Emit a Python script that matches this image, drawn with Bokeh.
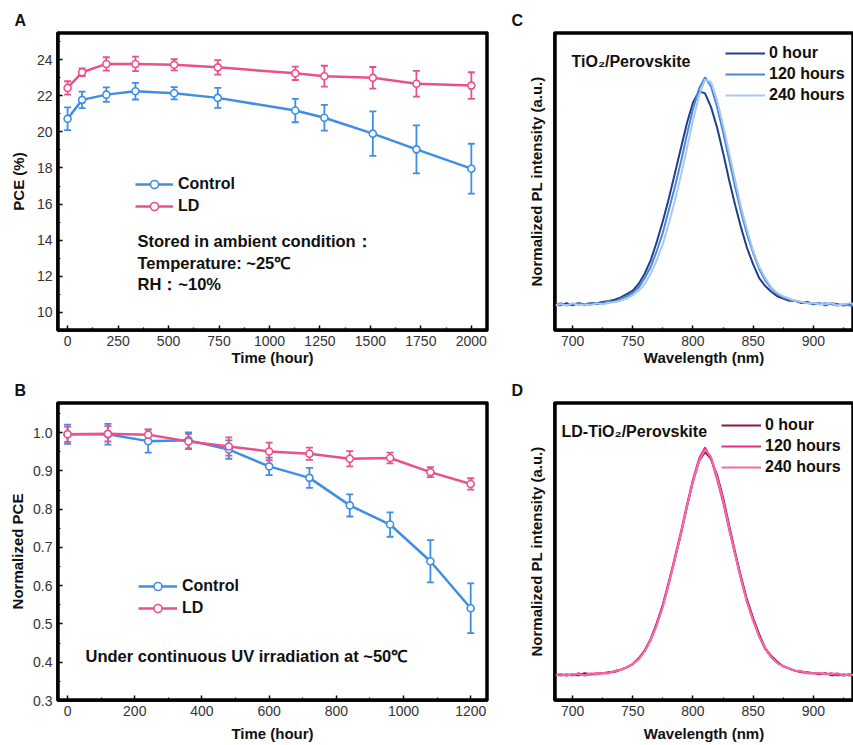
from bokeh.plotting import figure
from bokeh.models import (ColumnDataSource, Whisker, TeeHead, Legend, LegendItem,
                          Label, FixedTicker, Range1d, Title)
from bokeh.layouts import column, row
from bokeh.embed import file_html
from bokeh.resources import INLINE

# ---------------- data ----------------
# Panel A: ambient storage
a_time = [0, 72, 192, 336, 528, 744, 1128, 1272, 1512, 1728, 2000]
a_control = [20.72, 21.77, 22.06, 22.25, 22.14, 21.88, 21.18, 20.78, 19.90, 19.03, 17.96]
a_control_err = [0.63, 0.46, 0.40, 0.46, 0.34, 0.55, 0.65, 0.71, 1.23, 1.33, 1.38]
a_ld = [22.43, 23.30, 23.76, 23.76, 23.71, 23.57, 23.24, 23.08, 22.99, 22.66, 22.56]
a_ld_err = [0.37, 0.21, 0.37, 0.40, 0.31, 0.40, 0.37, 0.58, 0.60, 0.71, 0.74]

# Panel B: UV irradiation
b_time = [0, 120, 240, 360, 480, 600, 720, 840, 960, 1080, 1200]
b_control = [0.996, 0.996, 0.978, 0.980, 0.956, 0.912, 0.882, 0.810, 0.760, 0.664, 0.541]
b_control_err = [0.025, 0.027, 0.030, 0.021, 0.024, 0.023, 0.026, 0.029, 0.032, 0.055, 0.065]
b_ld = [0.996, 0.997, 0.995, 0.977, 0.964, 0.951, 0.945, 0.932, 0.934, 0.897, 0.866]
b_ld_err = [0.020, 0.020, 0.014, 0.020, 0.024, 0.023, 0.016, 0.020, 0.014, 0.013, 0.015]

# Panels C/D: PL spectra (normalized)
wavelength = list(range(685, 940, 5))
c_0h = [0.005, 0.00, 0.01, 0.00, 0.01, 0.005, 0.01, 0.01, 0.015, 0.02, 0.025, 0.035, 0.05,
        0.065, 0.095, 0.14, 0.20, 0.28, 0.37, 0.47, 0.58, 0.69, 0.80, 0.89, 0.94, 0.93,
        0.87, 0.78, 0.67, 0.55, 0.44, 0.34, 0.25, 0.18, 0.12, 0.085, 0.06, 0.04, 0.03,
        0.02, 0.02, 0.01, 0.015, 0.005, 0.01, 0.00, 0.01, 0.005, 0.00, 0.005, 0.00]
c_120h = [0.00, 0.01, 0.00, 0.005, 0.01, 0.00, 0.01, 0.005, 0.01, 0.02, 0.015, 0.03, 0.04,
          0.055, 0.08, 0.12, 0.17, 0.24, 0.32, 0.42, 0.52, 0.63, 0.75, 0.86, 0.95, 1.00,
          0.96, 0.87, 0.76, 0.64, 0.52, 0.41, 0.31, 0.23, 0.16, 0.11, 0.075, 0.05, 0.035,
          0.025, 0.02, 0.015, 0.01, 0.01, 0.005, 0.01, 0.005, 0.00, 0.005, 0.00, 0.00]
c_240h = [0.00, 0.005, 0.00, 0.01, 0.00, 0.005, 0.00, 0.01, 0.005, 0.01, 0.015, 0.02, 0.03,
          0.045, 0.065, 0.095, 0.14, 0.20, 0.27, 0.36, 0.46, 0.57, 0.69, 0.81, 0.92, 0.99,
          0.98, 0.90, 0.79, 0.67, 0.55, 0.43, 0.33, 0.24, 0.17, 0.12, 0.08, 0.055, 0.04,
          0.03, 0.02, 0.015, 0.01, 0.01, 0.005, 0.005, 0.01, 0.00, 0.005, 0.01, 0.005]
d_0h = [0.00, 0.005, 0.00, 0.005, 0.00, 0.01, 0.005, 0.005, 0.01, 0.01, 0.02, 0.025, 0.035,
        0.05, 0.075, 0.11, 0.16, 0.23, 0.31, 0.41, 0.51, 0.62, 0.74, 0.85, 0.94, 0.98,
        0.95, 0.88, 0.78, 0.66, 0.54, 0.43, 0.33, 0.25, 0.18, 0.12, 0.085, 0.06, 0.04,
        0.03, 0.02, 0.015, 0.01, 0.01, 0.005, 0.01, 0.00, 0.005, 0.00, 0.005, 0.00]
d_120h = [0.005, 0.00, 0.005, 0.00, 0.01, 0.00, 0.005, 0.01, 0.01, 0.015, 0.015, 0.025, 0.035,
          0.05, 0.075, 0.11, 0.16, 0.23, 0.31, 0.41, 0.52, 0.63, 0.75, 0.86, 0.95, 1.00,
          0.95, 0.86, 0.76, 0.64, 0.53, 0.42, 0.32, 0.24, 0.17, 0.115, 0.08, 0.055, 0.04,
          0.03, 0.02, 0.015, 0.015, 0.01, 0.01, 0.005, 0.01, 0.00, 0.005, 0.00, 0.005]
d_240h = [0.00, 0.005, 0.00, 0.005, 0.005, 0.00, 0.01, 0.005, 0.01, 0.01, 0.02, 0.025, 0.035,
          0.05, 0.07, 0.105, 0.155, 0.22, 0.30, 0.40, 0.51, 0.62, 0.74, 0.85, 0.94, 0.99,
          0.96, 0.87, 0.77, 0.65, 0.53, 0.42, 0.32, 0.24, 0.17, 0.12, 0.08, 0.055, 0.04,
          0.03, 0.02, 0.02, 0.01, 0.01, 0.01, 0.005, 0.005, 0.01, 0.00, 0.005, 0.00]

a_xticks = [0, 250, 500, 750, 1000, 1250, 1500, 1750, 2000]
a_yticks = [10, 12, 14, 16, 18, 20, 22, 24]
b_xticks = [0, 200, 400, 600, 800, 1000, 1200]
b_yticks = [0.3, 0.4, 0.5, 0.6, 0.7, 0.8, 0.9, 1.0]
b_ylabels = {0.3: "0.3", 0.4: "0.4", 0.5: "0.5", 0.6: "0.6", 0.7: "0.7", 0.8: "0.8", 0.9: "0.9", 1.0: "1.0"}
cd_xticks = [700, 750, 800, 850, 900]

# ---------------- style ----------------
FONT = "Liberation Sans"
BLUE = "#3f8ee6"
PINK = "#e9508c"
C_COLORS = ["#1f3f86", "#4a87d9", "#a9c8ef"]
D_COLORS = ["#8a1450", "#ea2d88", "#f06ea8"]
FRAME = "black"


def style_axis(ax):
    ax.axis_line_color = FRAME
    ax.axis_line_width = 2.5
    ax.major_tick_line_color = FRAME
    ax.minor_tick_line_color = FRAME
    ax.major_tick_line_width = 1.5
    ax.minor_tick_line_width = 1.2
    ax.major_tick_in = 5
    ax.major_tick_out = 0
    ax.minor_tick_in = 3
    ax.minor_tick_out = 0
    ax.major_label_text_font = FONT
    ax.major_label_text_font_size = "14px"
    ax.major_label_text_color = "#333333"
    ax.axis_label_text_font = FONT
    ax.axis_label_text_font_style = "bold"
    ax.axis_label_text_font_size = "15px"
    ax.axis_label_text_color = "#111111"


def base_fig(w, h, xr, yr, left, right, top, bottom):
    p = figure(width=w, height=h, x_range=Range1d(*xr), y_range=Range1d(*yr),
               output_backend="svg", toolbar_location=None,
               min_border_left=left, min_border_right=right,
               min_border_top=top, min_border_bottom=bottom)
    p.xgrid.visible = False
    p.ygrid.visible = False
    p.outline_line_color = FRAME
    p.outline_line_width = 2.5
    p.outline_line_alpha = 1.0
    for ax in p.axis:
        style_axis(ax)
    return p


def frame_box(p, xr, yr, px_w, px_h, sides):
    """Dark frame border drawn about one pixel inside the plot-range edges."""
    dx = (xr[1] - xr[0]) / px_w
    dy = (yr[1] - yr[0]) / px_h
    x0, x1 = xr[0] + dx, xr[1] - dx
    y0, y1 = yr[0] + dy, yr[1] - dy
    seg = {"left": ([x0, x0], [y0, y1]), "right": ([x1, x1], [y0, y1]),
           "top": ([x0, x1], [y1, y1]), "bottom": ([x0, x1], [y0, y0])}
    p.multi_line(xs=[seg[s][0] for s in sides], ys=[seg[s][1] for s in sides],
                 line_color=FRAME, line_width=2.5)


def panel_title(p, letter, offset):
    t = Title(text=letter, align="left", offset=offset, text_font=FONT,
              text_font_size="16px", text_font_style="bold", text_color="#111111",
              standoff=7)
    p.add_layout(t, "above")


def add_label(p, x, y, text, size="16.5px"):
    p.add_layout(Label(x=x, y=y, x_units="screen", y_units="screen", text=text,
                       text_font=FONT, text_font_size=size, text_font_style="bold",
                       text_color="#111111", text_baseline="middle"))


def series(p, x, y, err, color):
    src = ColumnDataSource(dict(x=x, y=y,
                                lo=[a - b for a, b in zip(y, err)],
                                hi=[a + b for a, b in zip(y, err)]))
    w = Whisker(base="x", lower="lo", upper="hi", source=src, line_color=color, line_width=1.8,
                upper_head=TeeHead(size=7, line_color=color, line_width=1.8),
                lower_head=TeeHead(size=7, line_color=color, line_width=1.8))
    p.add_layout(w)
    ln = p.line("x", "y", source=src, line_color=color, line_width=2.5)
    sc = p.scatter("x", "y", source=src, marker="circle", size=7, fill_color="white",
                   line_color=color, line_width=1.6)
    return ln, sc


def style_legend(p, items, loc, gw, standoff, spacing=2):
    lg = Legend(items=items, location=loc, padding=0, margin=0, spacing=spacing,
                glyph_width=gw, glyph_height=20, label_height=20, label_standoff=standoff,
                label_text_font=FONT, label_text_font_size="16px",
                label_text_font_style="bold", label_text_color="#111111",
                border_line_color=None, background_fill_alpha=0)
    p.add_layout(lg, "center")


# ---------------- Panel A ----------------
a_xr, a_yr = (-50, 2080), (9.0, 25.5)
pA = base_fig(498, 370, a_xr, a_yr, 57, 11, 32, 40)
frame_box(pA, a_xr, a_yr, 430, 298, ["left", "right", "top", "bottom"])
pA.xaxis.ticker = FixedTicker(ticks=a_xticks, minor_ticks=[125, 375, 625, 875, 1125, 1375, 1625, 1875])
pA.yaxis.ticker = FixedTicker(ticks=a_yticks, minor_ticks=[9, 11, 13, 15, 17, 19, 21, 23, 25])
pA.xaxis.axis_label = "Time (hour)"
pA.yaxis.axis_label = "PCE (%)"
pA.xaxis.major_label_standoff = 5
pA.xaxis.axis_label_standoff = 0
pA.yaxis.major_label_standoff = 5
pA.yaxis.axis_label_standoff = 7
lc, sc = series(pA, a_time, a_control, a_control_err, BLUE)
ll, sl = series(pA, a_time, a_ld, a_ld_err, PINK)
style_legend(pA, [LegendItem(label="Control", renderers=[lc, sc]),
                  LegendItem(label="LD", renderers=[ll, sl])], (78, 114), 38, 5)
add_label(pA, 80, 90, "Stored in  ambient condition：")
add_label(pA, 80, 68, "Temperature: ~25℃")
add_label(pA, 80, 47, "RH：~10%")
panel_title(pA, "A", -43)

# ---------------- Panel B ----------------
b_xr, b_yr = (-30, 1250), (0.3, 1.079)
pB = base_fig(498, 375, b_xr, b_yr, 57, 11, 32, 45)
frame_box(pB, b_xr, b_yr, 430, 298, ["left", "right", "top", "bottom"])
pB.xaxis.ticker = FixedTicker(ticks=b_xticks, minor_ticks=[100, 300, 500, 700, 900, 1100])
pB.yaxis.ticker = FixedTicker(ticks=b_yticks, minor_ticks=[0.35, 0.45, 0.55, 0.65, 0.75, 0.85, 0.95, 1.05])
pB.yaxis.major_label_overrides = b_ylabels
pB.xaxis.axis_label = "Time (hour)"
pB.yaxis.axis_label = "Normalized PCE"
pB.xaxis.major_label_standoff = 5
pB.xaxis.axis_label_standoff = 6
pB.yaxis.major_label_standoff = 5
pB.yaxis.axis_label_standoff = 4
lc, sc = series(pB, b_time, b_control, b_control_err, BLUE)
ll, sl = series(pB, b_time, b_ld, b_ld_err, PINK)
style_legend(pB, [LegendItem(label="Control", renderers=[lc, sc]),
                  LegendItem(label="LD", renderers=[ll, sl])], (81, 82), 39, 5)
add_label(pB, 28, 45, "Under continuous UV irradiation at ~50℃")
panel_title(pB, "B", -43)


# ---------------- Panels C / D ----------------
# (the right edge of these frames is cut off by the page edge, as in the reference)
cd_xr, cd_yr = (685, 933.3), (-0.11, 1.197)


def spectra_fig(h, bottom, curves, colors, text, text_x, leg_loc, letter):
    p = base_fig(355, h, cd_xr, cd_yr, 56, 0, 32, bottom)
    frame_box(p, cd_xr, cd_yr, 299, 298, ["left", "top", "bottom"])
    bx = p.below[0]
    ly = p.left[0]
    bx.ticker = FixedTicker(ticks=cd_xticks, minor_ticks=[725, 775, 825, 875, 925])
    bx.axis_label = "Wavelength (nm)"
    bx.major_label_standoff = 5
    bx.axis_label_standoff = 0 if bottom == 40 else 6
    ly.ticker = FixedTicker(ticks=[])
    ly.major_label_standoff = 0
    ly.axis_label_standoff = 10
    ly.axis_label = "Normalized PL intensity (a.u.)"
    items = []
    labels = ["0 hour", "120 hours", "240 hours"]
    for ys, col, lab in zip(curves, colors, labels):
        r = p.line(wavelength, ys, line_color=col, line_width=2)
        items.append(LegendItem(label=lab, renderers=[r]))
    style_legend(p, items, leg_loc, 40, 4, spacing=1)
    add_label(p, text_x, 269, text, size="16px")
    panel_title(p, letter, -43)
    return p


pC = spectra_fig(370, 40, [c_0h, c_120h, c_240h], C_COLORS, "TiO₂/Perovskite", 17, (171, 225), "C")
pD = spectra_fig(375, 45, [d_0h, d_120h, d_240h], D_COLORS, "LD-TiO₂/Perovskite", 7, (167, 223), "D")

layout = column(row(pA, pC, spacing=0), row(pB, pD, spacing=0), spacing=0)
open("out.html", "w").write(file_html(layout, INLINE))
